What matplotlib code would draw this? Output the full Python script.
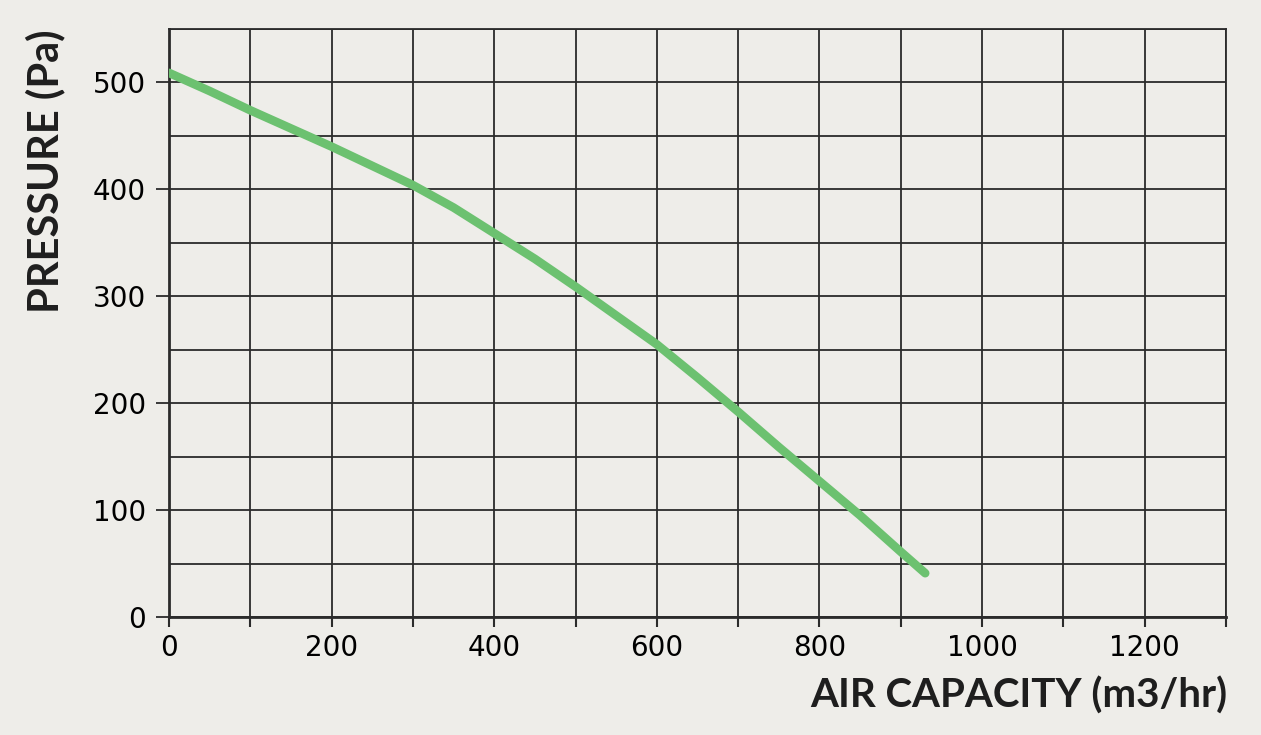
"""Fan curve: pressure vs air capacity."""
import matplotlib
matplotlib.use("Agg")
import matplotlib.pyplot as plt
import numpy as np

# values
air_capacity = [0, 50, 100, 150, 200, 250, 300, 350, 400, 450, 500,
                550, 600, 650, 700, 750, 800, 850, 900, 930]
pressure = [509, 492, 474, 457, 440, 422, 404, 383, 359, 335, 309,
            282, 255, 224, 192, 159, 127, 95, 61, 41]

x_ticks = list(range(0, 1301, 100))
x_labels = [str(v) if v % 200 == 0 else "" for v in x_ticks]
y_ticks = list(range(0, 501, 100))

BG = "#eeede9"
GRID = "#2b2b2b"
GREEN = "#6cc170"
TICK_FONT = "DejaVu Sans"
LABEL_FONT = "Lato"

fig = plt.figure(figsize=(12.61, 7.35), dpi=100, facecolor=BG)
ax = fig.add_axes([0.134, 0.1605, 0.9723 - 0.134, 0.9605 - 0.1605])
ax.set_facecolor(BG)

ax.plot(air_capacity, pressure, color=GREEN, linewidth=6.2,
        solid_capstyle="round", solid_joinstyle="round", zorder=3)

ax.set_xlim(0, 1300)
ax.set_ylim(0, 550)

# grid every 100 in x, every 50 in y
ax.set_xticks(x_ticks)
ax.set_xticklabels(x_labels)
ax.set_yticks(y_ticks)
ax.set_yticks(np.arange(50, 551, 50), minor=True)
ax.grid(True, which="both", color=GRID, linewidth=1.3)
ax.set_axisbelow(True)

ax.tick_params(axis="y", which="major", length=9.5, width=1.3, pad=7,
               color=GRID, labelsize=20, labelcolor="black")
ax.tick_params(axis="y", which="minor", length=0)
ax.tick_params(axis="x", which="major", length=7.5, width=1.5, pad=5,
               color=GRID, labelsize=20, labelcolor="black")
for lab in ax.get_xticklabels() + ax.get_yticklabels():
    lab.set_family(TICK_FONT)

for side in ["top", "right"]:
    ax.spines[side].set_color(GRID)
    ax.spines[side].set_linewidth(1.3)
for side in ["left", "bottom"]:
    ax.spines[side].set_color(GRID)
    ax.spines[side].set_linewidth(2.0)

fig.text(0.9735, 0.054, "AIR CAPACITY (m3/hr)", ha="right", va="center",
         fontsize=29, fontweight="bold", family=LABEL_FONT, color="#1e1e1e")
fig.text(0.036, 0.9605, "PRESSURE (Pa)", ha="center", va="top",
         rotation=90, fontsize=30, fontweight="bold", family=LABEL_FONT,
         color="#1e1e1e")

fig.savefig("out.png", dpi=100, facecolor=BG)
